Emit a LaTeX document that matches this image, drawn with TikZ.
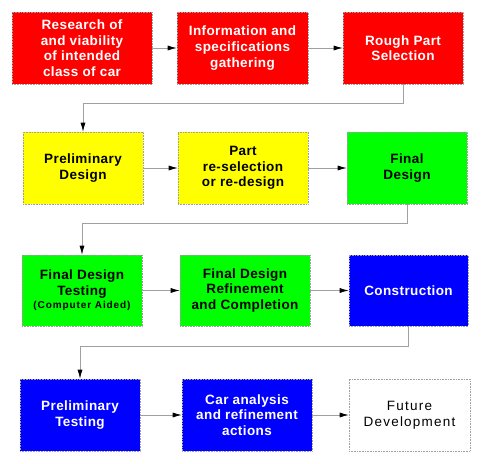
\documentclass[tikz,border=0pt]{standalone}
\usepackage{fontspec}
\setmainfont{Liberation Sans}
\newfontfamily\boxfont[LetterSpace=3]{Liberation Sans}
\newfontfamily\widefont[LetterSpace=9]{Liberation Sans}
\usetikzlibrary{arrows.meta}
\definecolor{cred}{HTML}{FF0000}
\definecolor{cyel}{HTML}{FFFF00}
\definecolor{cgrn}{HTML}{00FF00}
\definecolor{cblu}{HTML}{0000FF}
\definecolor{cline}{HTML}{A0A0A0}
\tikzset{
  box/.style={draw=cline, densely dotted, line width=0.6pt, rectangle, align=center,
    inner sep=0pt, font=\boxfont\bfseries\fontsize{13.5}{15.6}\selectfont},
  redbox/.style={box, fill=cred, text=white},
  yelbox/.style={box, fill=cyel, text=black},
  grnbox/.style={box, fill=cgrn, text=black},
  blubox/.style={box, fill=cblu, text=white},
  whtbox/.style={box, fill=white, text=black, font=\widefont\fontsize{13.5}{15.6}\selectfont},
  conn/.style={draw=cline, line width=0.7pt, -{Latex[black,length=9pt,width=5pt]}},
}
\begin{document}
\begin{tikzpicture}[x=1pt,y=-1pt]
\useasboundingbox (0,0) rectangle (483,464);
% row 1
\node[redbox, minimum width=140pt, minimum height=72pt] (a1) at (82,48) {Research of\\and viability\\of intended\\class of car};
\node[redbox, minimum width=131pt, minimum height=72pt] (a2) at (242.5,48) {Information and\\specifications\\gathering};
\node[redbox, minimum width=120pt, minimum height=72pt] (a3) at (403,48) {Rough Part\\Selection};
% row 2
\node[yelbox, minimum width=120pt, minimum height=72pt] (b1) at (83,168) {Preliminary\\Design};
\node[yelbox, minimum width=130pt, minimum height=72pt] (b2) at (243,168) {Part\\re-selection\\or re-design};
\node[grnbox, minimum width=120pt, minimum height=72pt] (b3) at (407,168) {Final\\Design};
% row 3
\node[grnbox, minimum width=120pt, minimum height=71pt] (c1) at (82,290.5) {Final Design\\Testing\\[-2pt]{\widefont\fontsize{10}{11}\selectfont (Computer Aided)}};
\node[grnbox, minimum width=130pt, minimum height=71pt] (c2) at (245,290.5) {Final Design\\Refinement\\and Completion};
\node[blubox, minimum width=119pt, minimum height=71pt] (c3) at (408.5,290.5) {Construction};
% row 4
\node[blubox, minimum width=120pt, minimum height=72pt] (d1) at (80,415) {Preliminary\\Testing};
\node[blubox, minimum width=130pt, minimum height=72pt] (d2) at (247,415) {Car analysis\\and refinement\\actions};
\node[whtbox, minimum width=121pt, minimum height=72pt] (d3) at (409.5,415) {Future\\Development};
% connectors
\draw[conn] (a1) -- (a2);
\draw[conn] (a2) -- (a3);
\draw[conn] (a3.south) -- ++(0,19) -| (b1.north);
\draw[conn] (b1) -- (b2);
\draw[conn] (b2) -- (b3);
\draw[conn] (b3.south) -- ++(0,19) -| (c1.north);
\draw[conn] (c1) -- (c2);
\draw[conn] (c2) -- (c3);
\draw[conn] (c3.south) -- ++(0,20) -| (d1.north);
\draw[conn] (d1) -- (d2);
\draw[conn] (d2) -- (d3);
\end{tikzpicture}
\end{document}
